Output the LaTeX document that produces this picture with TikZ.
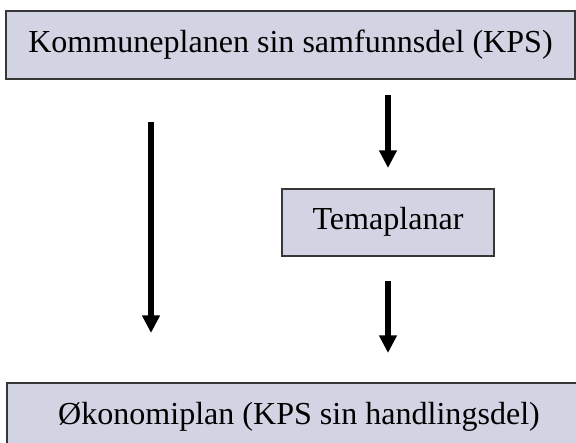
\documentclass[tikz,border=0pt]{standalone}
\usepackage{fontspec}
\setmainfont{Liberation Serif}
\usetikzlibrary{arrows.meta}

\definecolor{boksfarge}{RGB}{210,212,227}
\definecolor{kantfarge}{RGB}{55,55,55}

\tikzset{
	boks/.style={draw=kantfarge, line width=0.8pt, fill=boksfarge, inner sep=0pt,
		text height=0.6cm, text depth=0.25cm,
		font=\fontsize{22.8}{27}\selectfont},
	pil/.style={line width=4pt, -{Triangle[width=12pt,length=12.5pt]}}
}

\begin{document}
\begin{tikzpicture}
			\useasboundingbox (0,0) rectangle (14.4,-11.05);
			
			\node[boks, minimum width=14.225cm, minimum height=1.7cm] (kps) at (7.2625,-1.125) {Kommuneplanen sin samfunnsdel (KPS)};
			\node[boks, minimum width=5.3cm, minimum height=1.675cm] (tema) at (9.7,-5.5625) {Temaplanar};
			\node[boks, minimum width=14.6cm, minimum height=1.7cm] (okonomi) at (7.475,-10.425) {Økonomiplan (KPS sin handlingsdel)};
			
			% pilene
			\coordinate (venstre1) at (3.775,-3.05);
			\coordinate (venstre2) at (3.775,-8.325);
			\coordinate (hoyre1) at (9.7,-2.375);
			\coordinate (hoyre2) at (9.7,-4.2);
			\coordinate (hoyre3) at (9.7,-7.025);
			\coordinate (hoyre4) at (9.7,-8.825);
			
			\draw[pil] (venstre1) -- (venstre2);
			\draw[pil] (hoyre1) -- (hoyre2);
			\draw[pil] (hoyre3) -- (hoyre4);
		\end{tikzpicture}
\end{document}
